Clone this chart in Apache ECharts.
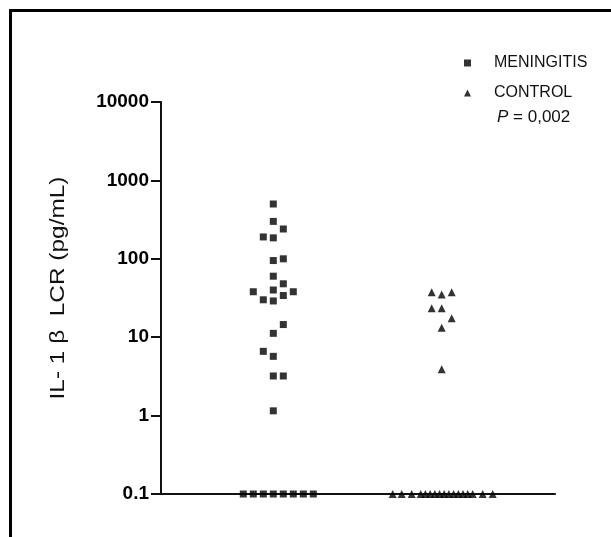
<!DOCTYPE html>
<html>
<head>
<meta charset="utf-8">
<script src="https://cdn.jsdelivr.net/npm/echarts@6/dist/echarts.min.js"></script>
<style>
  html, body { margin: 0; padding: 0; background: #fff; }
  #chart { width: 611px; height: 537px; }
</style>
</head>
<body>
<div id="chart"></div>
<script>
// values (pg/mL); 0.1 = below detection
const meningitisValues = [500, 300, 240, 190, 185, 95, 100, 60, 48, 38, 40, 38, 30, 29, 34,
  14.5, 11.2, 6.6, 5.7, 3.2, 3.2, 1.15, 0.1, 0.1, 0.1, 0.1, 0.1, 0.1, 0.1, 0.1];
// horizontal scatter slot of each point inside its column
const meningitisSlots = [0, 0, 1, -1, 0, 0, 1, 0, 1, -2, 0, 2, -1, 0, 1,
  1, 0, -1, 0, 0, 1, 0, -3, -2, -1, 0, 1, 2, 3, 4];

const controlValues = [37.4, 35, 37.4, 23.4, 23.4, 17.4, 13.2, 3.9,
  0.1, 0.1, 0.1, 0.1, 0.1, 0.1, 0.1, 0.1, 0.1, 0.1, 0.1, 0.1, 0.1, 0.1, 0.1, 0.1, 0.1];
const controlSlots = [-1, 0, 1, -1, 0, 1, 0, 0,
  -4.9, -4, -3, -2.1, -1.63, -1.16, -0.69, -0.22, 0.25, 0.72, 1.19, 1.66, 2.13, 2.6, 3.1, 4.1, 5.1];

const groupNames = ['MENINGITIS', 'CONTROL'];
const yTickLabels = ['0.1', '1', '10', '100', '1000', '10000'];
const yAxisTitle = 'IL- 1 β  LCR (pg/mL)';
const pValueText = '0,002';

const SLOT = 0.0594;
function points(group, values, slots) {
  return values.map((v, i) => [group + slots[i] * SLOT, v]);
}

const chart = echarts.init(document.getElementById('chart'));
const font = '"Liberation Sans", Arial, sans-serif';

chart.setOption({
  animation: false,
  grid: { left: 161, right: 56, top: 102, bottom: 43 },
  xAxis: {
    type: 'value',
    min: 0.3331,
    max: 2.6728,
    axisLine: { show: true, onZero: false, lineStyle: { color: '#111', width: 2 } },
    axisTick: { show: false },
    axisLabel: { show: false },
    splitLine: { show: false }
  },
  yAxis: {
    type: 'log',
    logBase: 10,
    min: 0.1,
    max: 10000,
    axisLine: { show: true, lineStyle: { color: '#111', width: 2 } },
    axisTick: { show: true, length: 10, lineStyle: { color: '#111', width: 2 } },
    axisLabel: {
      margin: 12,
      fontFamily: font,
      fontSize: 19,
      fontWeight: 'bold',
      color: '#000',
      formatter: function (v) {
        return yTickLabels[Math.round(Math.log10(v)) + 1];
      }
    },
    splitLine: { show: false }
  },
  legend: {
    orient: 'vertical',
    left: 459,
    top: 50,
    itemWidth: 7,
    itemHeight: 7,
    itemGap: 14,
    textStyle: { fontFamily: font, fontSize: 16, color: '#111', padding: [0, 0, 0, 18], lineHeight: 16 },
    data: [
      { name: groupNames[0], icon: 'rect' },
      { name: groupNames[1], icon: 'triangle' }
    ]
  },
  graphic: [
    {
      type: 'polyline',
      shape: { points: [[10.5, 537], [10.5, 10.5], [611, 10.5]] },
      style: { stroke: '#000', lineWidth: 3, fill: null }
    },
    {
      // axis title, stretched along its length like the original
      type: 'text',
      x: 58,
      y: 288,
      rotation: Math.PI / 2,
      scaleX: 1.22,
      style: {
        text: yAxisTitle,
        font: '20px ' + font,
        fill: '#111',
        align: 'center',
        verticalAlign: 'middle'
      }
    },
    {
      type: 'text',
      left: 497,
      top: 109,
      style: {
        text: '{i|P} = ' + pValueText,
        font: '17px ' + font,
        fill: '#111',
        rich: { i: { fontStyle: 'italic', fontSize: 17, fontFamily: font } }
      }
    }
  ],
  series: [
    {
      name: groupNames[0],
      type: 'scatter',
      symbol: 'rect',
      symbolSize: 7,
      itemStyle: { color: '#000' },
      data: points(1, meningitisValues, meningitisSlots)
    },
    {
      name: groupNames[1],
      type: 'scatter',
      symbol: 'triangle',
      symbolSize: 8,
      itemStyle: { color: '#000' },
      data: points(2, controlValues, controlSlots)
    }
  ]
});
</script>
</body>
</html>
